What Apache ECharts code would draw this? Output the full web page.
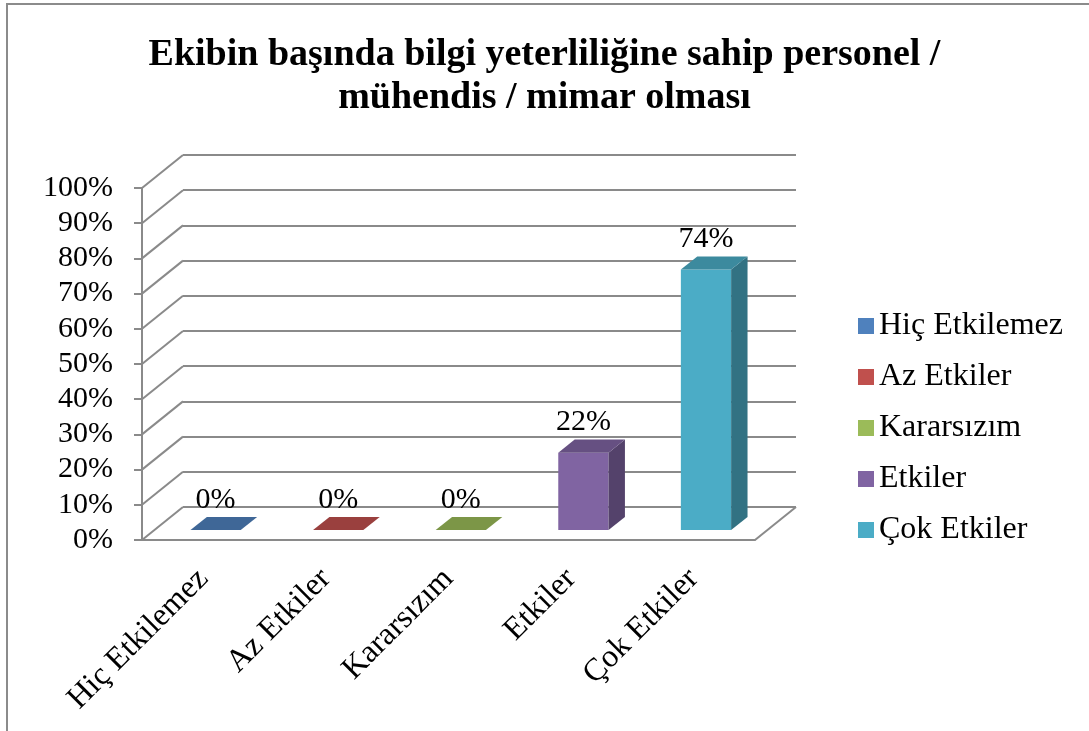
<!DOCTYPE html>
<html>
<head>
<meta charset="UTF-8">
<title>ECharts</title>
<script src="https://cdn.jsdelivr.net/npm/echarts@6/dist/echarts.min.js"></script>
</head>
<body style="margin:0;background:#fff">
<div id="chart" style="width:1089px;height:731px;"></div>
<script>
var categories = ['Hiç Etkilemez', 'Az Etkiler', 'Kararsızım', 'Etkiler', 'Çok Etkiler'];
var values = [0, 0, 0, 22, 74];
var colors = ['#4f81bd', '#c0504d', '#9bbb59', '#8064a2', '#4bacc6'];
var yTicks = [0, 10, 20, 30, 40, 50, 60, 70, 80, 90, 100];

var depth = [41, -33]; // kaydırma: ön düzlemden arka duvara
var font = 'Liberation Serif, Times New Roman, serif';
var lineCol = '#8a8a8a';

function shade(hex, k) {
    var n = parseInt(hex.slice(1), 16);
    var r = Math.round(((n >> 16) & 255) * k);
    var g = Math.round(((n >> 8) & 255) * k);
    var b = Math.round((n & 255) * k);
    return 'rgb(' + r + ',' + g + ',' + b + ')';
}

// 3B sütun: ön yüz, üst yüz, yan yüz
function barItem(params, api) {
    var cat = api.value(0), v = api.value(1);
    var base = api.coord([cat, 0]);
    var top = api.coord([cat, v]);
    var band = api.size([1, 0])[0];
    var bw = band * 0.41;
    var fx = base[0] - bw / 2 + depth[0] * 0.3;
    var yb = base[1] + depth[1] * 0.3;
    var yt = top[1] + depth[1] * 0.3;
    var dx = depth[0] * 0.4, dy = depth[1] * 0.4;
    var c = colors[params.seriesIndex - 1];
    var kids = [];
    if (yb - yt > 0.5) {
        kids.push({type: 'rect', shape: {x: fx, y: yt, width: bw, height: yb - yt}, style: {fill: c}});
        kids.push({type: 'polygon', shape: {points: [[fx + bw, yb], [fx + bw, yt], [fx + bw + dx, yt + dy], [fx + bw + dx, yb + dy]]}, style: {fill: shade(c, 0.66)}});
    }
    kids.push({type: 'polygon', shape: {points: [[fx, yt], [fx + bw, yt], [fx + bw + dx, yt + dy], [fx + dx, yt + dy]]}, style: {fill: shade(c, 0.8)}});
    kids.push({type: 'text', style: {x: fx + bw / 2, y: yt + dy - 2, text: v + '%', align: 'center', verticalAlign: 'bottom', font: '30px ' + font, fill: '#000'}});
    return {type: 'group', children: kids};
}

// sol çapraz çizgiler ve zemin kenarı
function frameItem(params, api) {
    var y = api.coord([0, api.value(1)])[1];
    var cs = params.coordSys;
    var st = {stroke: lineCol, lineWidth: 2};
    var kids = [{type: 'line', shape: {x1: cs.x, y1: y, x2: cs.x + depth[0], y2: y + depth[1]}, style: st}];
    if (api.value(1) === 0) {
        var xr = cs.x + cs.width;
        kids.push({type: 'line', shape: {x1: xr, y1: y, x2: xr + depth[0], y2: y + depth[1]}, style: st});
    }
    return {type: 'group', children: kids};
}

var chart = echarts.init(document.getElementById('chart'));

var series = [{
    type: 'custom',
    name: 'frame',
    xAxisIndex: 0,
    yAxisIndex: 0,
    renderItem: frameItem,
    data: yTicks.map(function (t) { return [0, t]; }),
    clip: false,
    silent: true,
    z: 1
}];
categories.forEach(function (name, i) {
    series.push({
        type: 'custom',
        name: name,
        xAxisIndex: 0,
        yAxisIndex: 0,
        itemStyle: {color: colors[i]},
        renderItem: barItem,
        data: [[i, values[i]]],
        clip: false,
        z: 3
    });
});

var option = {
    backgroundColor: '#fff',
    title: {
        text: 'Ekibin başında bilgi yeterliliğine sahip personel /\nmühendis / mimar olması',
        left: 'center',
        top: 29,
        textStyle: {fontFamily: font, fontWeight: 'bold', fontSize: 38, lineHeight: 43, color: '#000'}
    },
    graphic: [{
        type: 'rect',
        shape: {x: 7, y: 4, width: 1300, height: 1000},
        style: {fill: 'none', stroke: '#8b8b8b', lineWidth: 2},
        silent: true
    }],
    legend: {
        data: categories,
        orient: 'vertical',
        left: 853,
        top: 305,
        icon: 'rect',
        itemWidth: 16,
        itemHeight: 16,
        itemGap: 19,
        textStyle: {fontFamily: font, fontSize: 32, lineHeight: 32, color: '#000'}
    },
    grid: [
        {left: 142, top: 188, width: 613, height: 352},
        {left: 142 + 41, top: 188 - 33, width: 613, height: 352}
    ],
    xAxis: [{
        type: 'category',
        gridIndex: 0,
        data: categories,
        axisLine: {lineStyle: {color: lineCol, width: 2}},
        axisTick: {show: false},
        axisLabel: {rotate: 45, margin: 34, fontFamily: font, fontSize: 32, color: '#000', interval: 0}
    }, {
        type: 'category',
        gridIndex: 1,
        data: categories,
        show: false
    }],
    yAxis: [{
        type: 'value',
        gridIndex: 0,
        min: 0, max: 100, interval: 10,
        axisLine: {show: true, lineStyle: {color: lineCol, width: 2}},
        axisTick: {show: true, length: 8, lineStyle: {color: lineCol, width: 2}},
        splitLine: {show: false},
        axisLabel: {formatter: '{value}%', margin: 29, fontFamily: font, fontSize: 30, color: '#000'}
    }, {
        type: 'value',
        gridIndex: 1,
        min: 0, max: 100, interval: 10,
        axisLine: {show: false},
        axisTick: {show: false},
        axisLabel: {show: false},
        splitLine: {show: true, lineStyle: {color: lineCol, width: 2}}
    }],
    series: series
};

chart.setOption(option);
</script>
</body>
</html>
